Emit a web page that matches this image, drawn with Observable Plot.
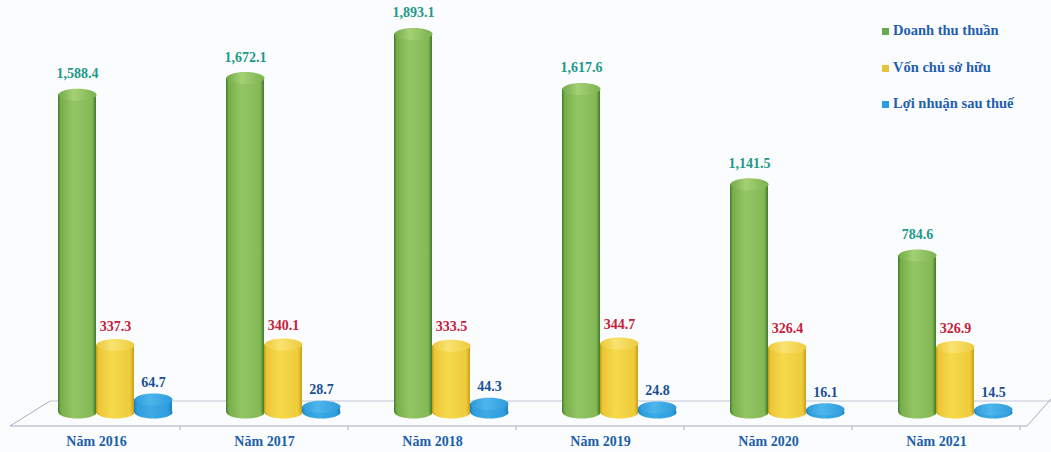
<!DOCTYPE html>
<html>
<head>
<meta charset="utf-8">
<script src="https://cdn.jsdelivr.net/npm/d3@7"></script>
<script src="https://cdn.jsdelivr.net/npm/@observablehq/plot@0.6"></script>
<style>
  html, body { margin: 0; padding: 0; background: #fbfcfd; }
  #wrap { position: relative; width: 1051px; height: 452px; font-family: "Liberation Serif", serif; }
  #legend { position: absolute; left: 882px; top: 22px; color: #1f5fb0; font-weight: bold; font-size: 14.5px; }
  #legend div { height: 36.5px; display: flex; align-items: flex-start; }
  #legend span.sw { display: inline-block; width: 7px; height: 7px; margin-right: 4px; margin-top: 6px; }
</style>
</head>
<body>
<svg width="0" height="0" style="position:absolute">
  <defs>
    <linearGradient id="gGreen" x1="0" x2="1" y1="0" y2="0">
      <stop offset="0" stop-color="#3f7a28"/>
      <stop offset="0.07" stop-color="#78ad4c"/>
      <stop offset="0.4" stop-color="#93c564"/>
      <stop offset="0.9" stop-color="#84b956"/>
      <stop offset="1" stop-color="#3f7a28"/>
    </linearGradient>
    <linearGradient id="gGreenTop" x1="0" x2="1" y1="0" y2="0">
      <stop offset="0" stop-color="#74aa4a"/>
      <stop offset="0.4" stop-color="#a3d173"/>
      <stop offset="1" stop-color="#7cb150"/>
    </linearGradient>
    <linearGradient id="gYellow" x1="0" x2="1" y1="0" y2="0">
      <stop offset="0" stop-color="#c99b16"/>
      <stop offset="0.07" stop-color="#ebc636"/>
      <stop offset="0.4" stop-color="#f6da4c"/>
      <stop offset="0.9" stop-color="#eecb3a"/>
      <stop offset="1" stop-color="#c99b16"/>
    </linearGradient>
    <linearGradient id="gYellowTop" x1="0" x2="1" y1="0" y2="0">
      <stop offset="0" stop-color="#ecc83a"/>
      <stop offset="0.4" stop-color="#f9e370"/>
      <stop offset="1" stop-color="#eecb3e"/>
    </linearGradient>
    <linearGradient id="gBlue" x1="0" x2="1" y1="0" y2="0">
      <stop offset="0" stop-color="#1a7cc2"/>
      <stop offset="0.08" stop-color="#2d9ddc"/>
      <stop offset="0.4" stop-color="#3eaae6"/>
      <stop offset="0.9" stop-color="#2f9edd"/>
      <stop offset="1" stop-color="#1a7cc2"/>
    </linearGradient>
    <linearGradient id="gBlueTop" x1="0" x2="1" y1="0" y2="0">
      <stop offset="0" stop-color="#2f9ad8"/>
      <stop offset="0.4" stop-color="#4db6ee"/>
      <stop offset="1" stop-color="#2f9bd9"/>
    </linearGradient>
  </defs>
</svg>
<div id="wrap">
  <div id="chart"></div>
  <div id="legend"></div>
</div>
<script>
const years = ["Năm 2016", "Năm 2017", "Năm 2018", "Năm 2019", "Năm 2020", "Năm 2021"];
const seriesNames = ["Doanh thu thuần", "Vốn chủ sở hữu", "Lợi nhuận sau thuế"];
const revenue = [1588.4, 1672.1, 1893.1, 1617.6, 1141.5, 784.6];
const equity = [337.3, 340.1, 333.5, 344.7, 326.4, 326.9];
const profit = [64.7, 28.7, 44.3, 24.8, 16.1, 14.5];

const seriesStyle = [
  {values: revenue, body: "url(#gGreen)", top: "url(#gGreenTop)", label: "#1e9a8a", swatch: "#6aa84f", dx: -19, dy: -21},
  {values: equity, body: "url(#gYellow)", top: "url(#gYellowTop)", label: "#c4223c", swatch: "#e8c43a", dx: 19, dy: -19},
  {values: profit, body: "url(#gBlue)", top: "url(#gBlueTop)", label: "#1a4f96", swatch: "#2a9ee0", dx: 57, dy: -17}
];

const fmt = d3.format(",.1f");
const barW = 38;

const ellipse = {
  draw(ctx) {
    const rx = barW / 2, ry = 6, k = 0.5523;
    ctx.moveTo(-rx, 0);
    ctx.bezierCurveTo(-rx, -ry * k, -rx * k, -ry, 0, -ry);
    ctx.bezierCurveTo(rx * k, -ry, rx, -ry * k, rx, 0);
    ctx.bezierCurveTo(rx, ry * k, rx * k, ry, 0, ry);
    ctx.bezierCurveTo(-rx * k, ry, -rx, ry * k, -rx, 0);
    ctx.closePath();
  }
};

const width = 1051, height = 452;
const marginLeft = 12, marginRight = 31, marginTop = 20, marginBottom = 40;

// floor (3D base) drawn relative to the library's scales
function floor(index, scales, values, dims) {
  const y0 = scales.y(0);
  const back = y0 - 11, front = y0 + 14;
  const left = dims.marginLeft, right = dims.width - dims.marginRight;
  const g = d3.create("svg:g").attr("fill", "none").attr("stroke", "#a2aec6").attr("stroke-width", 1);
  g.append("line").attr("x1", left + 38).attr("x2", dims.width).attr("y1", back).attr("y2", back).attr("stroke", "#c0c8d8");
  g.append("line").attr("x1", left - 2).attr("x2", right + 7).attr("y1", front).attr("y2", front);
  g.append("line").attr("x1", left - 2).attr("x2", left + 38).attr("y1", front).attr("y2", back);
  g.append("line").attr("x1", right + 7).attr("x2", dims.width).attr("y1", front).attr("y2", back - 2);
  const bw = scales.x.bandwidth();
  for (const yv of years) {
    const xe = scales.x(yv) + bw;
    g.append("line").attr("x1", xe).attr("x2", xe).attr("y1", front).attr("y2", front + 4);
  }
  return g.node();
}

const marks = [floor];
seriesStyle.forEach((s, si) => {
  const rows = years.map((y, i) => ({year: y, value: s.values[i]}));
  const inset = (168 - barW) / 2;
  marks.push(
    Plot.dot(rows, {x: "year", y: () => 0, symbol: ellipse, r: 5, fill: s.body, stroke: "none", dx: s.dx}),
    Plot.barY(rows, {x: "year", y: "value", fill: s.body, insetLeft: inset, insetRight: inset, dx: s.dx}),
    Plot.dot(rows, {x: "year", y: "value", symbol: ellipse, r: 5, fill: s.top, stroke: "none", dx: s.dx}),
    Plot.text(rows, {x: "year", y: "value", text: d => fmt(d.value), fill: s.label, dx: s.dx, dy: s.dy, fontSize: 14, fontWeight: "bold"})
  );
});
marks.push(Plot.axisX({tickSize: 0, tickPadding: 24, fill: "#1a5fa8", fontSize: 14, fontWeight: "bold", label: null}));

const chart = Plot.plot({
  width, height, marginLeft, marginRight, marginTop, marginBottom,
  style: {fontFamily: "Liberation Serif", background: "transparent", fontWeight: "bold"},
  x: {type: "band", domain: years, padding: 0, axis: null},
  y: {domain: [0, 1960], axis: null},
  marks
});
document.getElementById("chart").appendChild(chart);

const legend = document.getElementById("legend");
seriesNames.forEach((n, i) => {
  const row = document.createElement("div");
  const sw = document.createElement("span");
  sw.className = "sw";
  sw.style.background = seriesStyle[i].swatch;
  row.appendChild(sw);
  row.appendChild(document.createTextNode(n));
  legend.appendChild(row);
});
</script>
</body>
</html>
